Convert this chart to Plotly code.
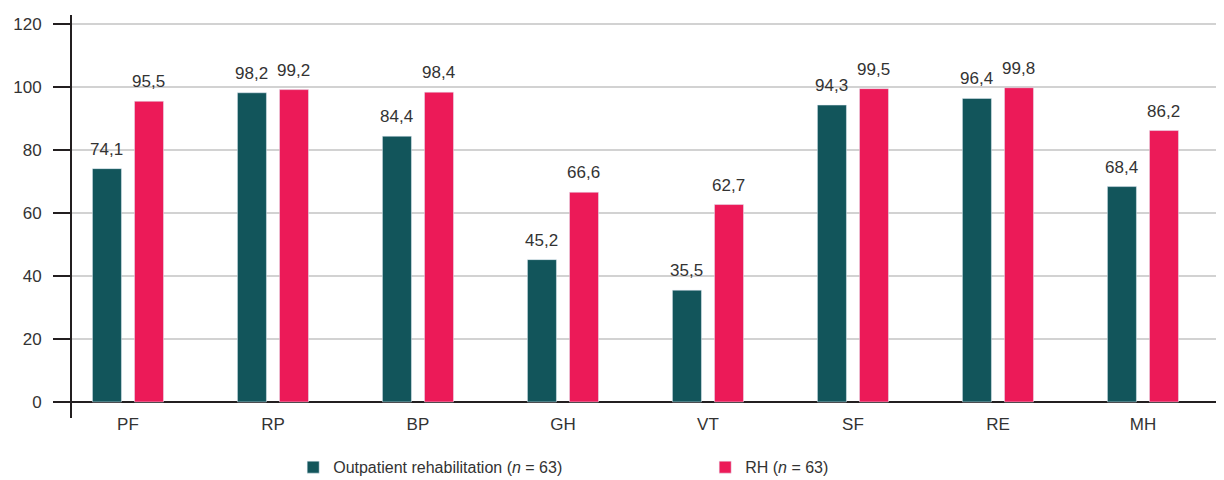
import plotly.graph_objects as go

categories = ['PF', 'RP', 'BP', 'GH', 'VT', 'SF', 'RE', 'MH']
outpatient = [74.1, 98.2, 84.4, 45.2, 35.5, 94.3, 96.4, 68.4]
rh = [95.5, 99.2, 98.4, 66.6, 62.7, 99.5, 99.8, 86.2]
y_ticks = [0, 20, 40, 60, 80, 100, 120]

TEAL = '#12555b'
PINK = '#ec1a58'
TXT = '#333333'
AXIS = '#231f20'

fig = go.Figure()
fig.add_trace(go.Bar(x=categories, y=outpatient, marker_color=TEAL,
                     name='Outpatient rehabilitation (<i>n</i> = 63)'))
fig.add_trace(go.Bar(x=categories, y=rh, marker_color=PINK,
                     name='RH (<i>n</i> = 63)'))

# value labels above the bars, comma decimals
annots = []
for vals, shift in [(outpatient, -21), (rh, 21)]:
    for c, v in zip(categories, vals):
        annots.append(dict(x=c, y=v, xshift=shift, yshift=8, yanchor='bottom',
                           text=f'{v:.1f}'.replace('.', ','), showarrow=False,
                           font=dict(size=17, color=TXT)))

# page body has an 8px margin, so the figure is a bit smaller than the window
fig.update_layout(
    width=1216,
    height=472,
    margin=dict(l=64, r=0, t=7, b=62, autoexpand=False),
    plot_bgcolor='white',
    paper_bgcolor='white',
    font=dict(family='Liberation Sans, Arial, sans-serif', size=16, color=TXT),
    barmode='group',
    bargap=0.42,
    bargroupgap=0.31,
    annotations=annots,
    showlegend=True,
    legend=dict(orientation='h', x=0.192, xanchor='left', y=-0.08, yanchor='top',
                entrywidth=367, entrywidthmode='pixels',
                font=dict(size=16, color=TXT)),
    xaxis=dict(range=[-0.386, 7.559], showgrid=False, showline=False,
               ticks='', ticklabelstandoff=-6, automargin=False,
               tickfont=dict(size=17, color=TXT)),
    yaxis=dict(range=[-5.1, 122.9], tickvals=y_ticks, showgrid=True,
               gridcolor='#d2d2d2', gridwidth=2, zeroline=True,
               zerolinecolor=AXIS, zerolinewidth=2, showline=True,
               linecolor=AXIS, linewidth=2, ticks='outside', ticklen=17,
               tickwidth=2, tickcolor=AXIS, ticklabelstandoff=8,
               automargin=False, tickfont=dict(size=17, color=TXT)),
)

fig.write_html("out.html")
